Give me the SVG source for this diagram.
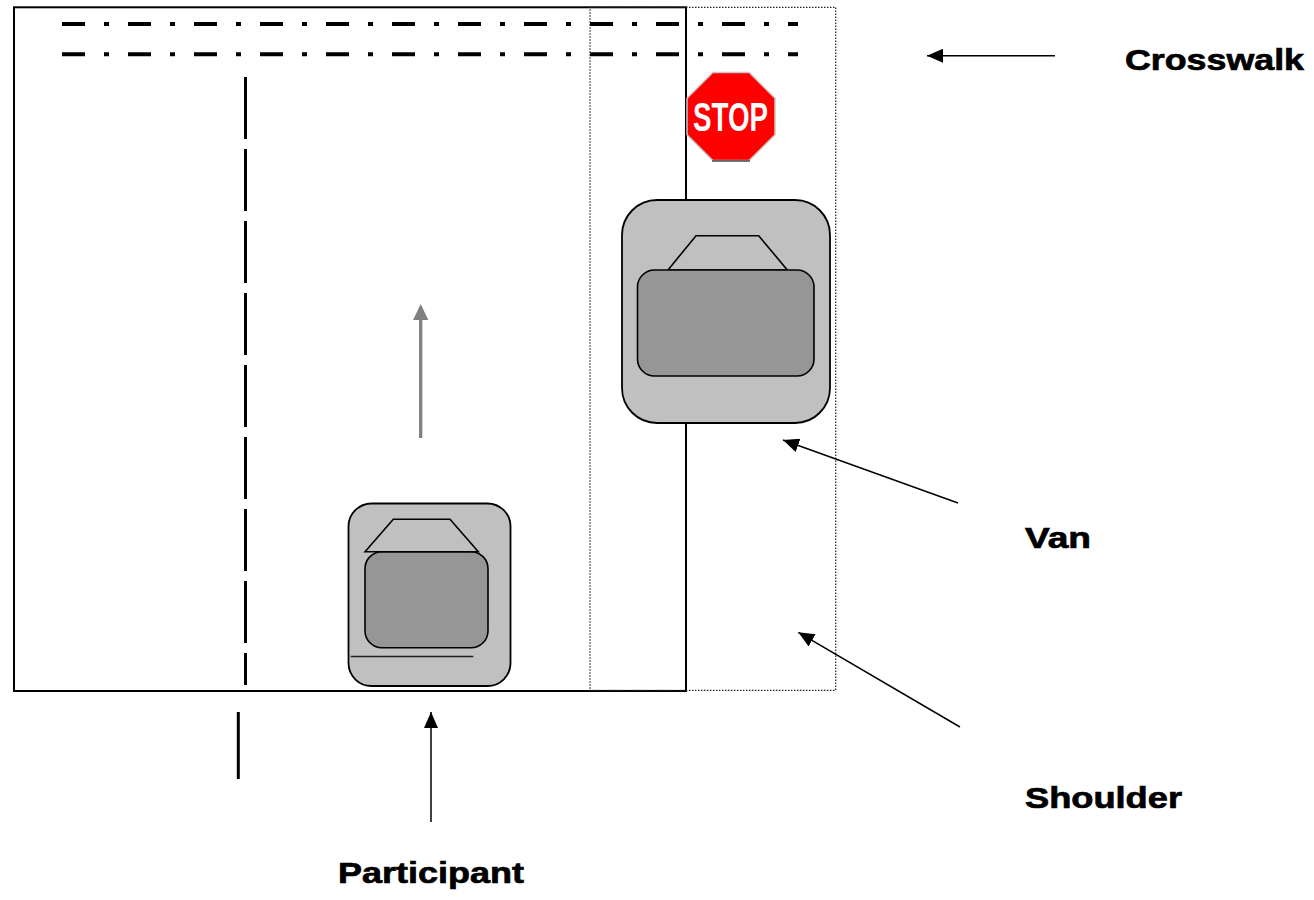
<svg xmlns="http://www.w3.org/2000/svg" width="1314" height="900" viewBox="0 0 1314 900">
  <style>
    .road { fill: none; stroke: #000; stroke-width: 2; }
    .shoulder-edge { fill: none; stroke: #222; stroke-width: 1.2; stroke-dasharray: 1.5 1.5; }
    .walk { stroke: #000; stroke-width: 4; stroke-dasharray: 23 19 5 19; fill: none; }
    .lane { stroke: #000; stroke-width: 3; fill: none; }
    .body { fill: #C0C0C0; stroke: #000; stroke-width: 1.8; }
    .glass { fill: #969696; stroke: #000; stroke-width: 1.6; }
    .roof { fill: #C0C0C0; stroke: #000; stroke-width: 1.6; stroke-linejoin: miter; }
    .label { font-family: "Liberation Sans", Arial, sans-serif; font-weight: bold; font-size: 30px; fill: #000; stroke: #000; stroke-width: 0.7; }
    .conn { stroke: #000; stroke-width: 1.5; fill: none; marker-end: url(#head); }
  </style>
  <defs>
    <marker id="head" viewBox="0 0 16 14" refX="16" refY="7" markerWidth="16" markerHeight="14" markerUnits="userSpaceOnUse" orient="auto">
      <path d="M0,0 L16,7 L0,14 z" fill="#000"/>
    </marker>
  </defs>

  <rect width="1314" height="900" fill="#fff"/>

  <!-- road outline and lane divider -->
  <g id="road">
    <rect class="road" x="14" y="7.3" width="672" height="683.7"/>
    <line class="lane" x1="245.5" y1="77" x2="245.5" y2="685" stroke-dasharray="62 10"/>
    <line class="lane" x1="238.3" y1="712" x2="238.3" y2="779"/>
  </g>

  <!-- shoulder boundary -->
  <g id="shoulder">
    <rect class="shoulder-edge" x="590" y="7.3" width="245.7" height="683"/>
  </g>

  <!-- crosswalk markings -->
  <g id="crosswalk">
    <line class="walk" x1="62" y1="24" x2="798" y2="24"/>
    <line class="walk" x1="62" y1="54.3" x2="798" y2="54.3"/>
  </g>

  <!-- stop sign -->
  <g id="stop-sign">
    <polygon points="712.8,72.5 749.2,72.5 775,98.3 775,134.7 749.2,160.5 712.8,160.5 687,134.7 687,98.3" fill="#FF0000" stroke="#C8C8C8" stroke-width="1.5"/>
    <line x1="712" y1="161" x2="750" y2="161" stroke="#000" stroke-width="1"/>
    <text x="693" y="130.7" font-family="Liberation Sans, Arial, sans-serif" font-weight="bold" font-size="40" fill="#fff" textLength="75" lengthAdjust="spacingAndGlyphs">STOP</text>
  </g>

  <!-- parked van on the shoulder -->
  <g id="van">
    <rect class="body" x="622" y="200" width="208" height="223" rx="35" ry="35"/>
    <polygon class="roof" points="668,270 696,235.7 758.7,235.7 787.3,270"/>
    <rect class="glass" x="637.5" y="270" width="176.5" height="106" rx="17" ry="17"/>
  </g>

  <!-- participant's car -->
  <g id="participant-car">
    <rect class="body" x="348.5" y="503.5" width="162" height="182.5" rx="23" ry="23"/>
    <rect class="glass" x="365" y="551.7" width="123" height="96" rx="17" ry="17"/>
    <polygon class="roof" points="365,551.7 393.3,519.3 450,519.3 478.3,551.7"/>
    <line x1="350.7" y1="656.5" x2="473.3" y2="656.5" stroke="#222" stroke-width="1.4"/>
  </g>

  <!-- direction of travel -->
  <g id="travel-arrow">
    <line x1="420.7" y1="438" x2="420.7" y2="318" stroke="#808080" stroke-width="3.3"/>
    <polygon points="420.7,304 428.3,320 413.1,320" fill="#808080"/>
  </g>

  <!-- labels -->
  <g id="label-crosswalk">
    <text class="label" x="1125" y="69.5" textLength="179" lengthAdjust="spacingAndGlyphs">Crosswalk</text>
  </g>
  <g id="label-van">
    <text class="label" x="1025" y="548.3" textLength="66" lengthAdjust="spacingAndGlyphs">Van</text>
  </g>
  <g id="label-shoulder">
    <text class="label" x="1025" y="808.3" textLength="157" lengthAdjust="spacingAndGlyphs">Shoulder</text>
  </g>
  <g id="label-participant">
    <text class="label" x="338" y="883.3" textLength="186" lengthAdjust="spacingAndGlyphs">Participant</text>
  </g>

  <!-- label pointers -->
  <g id="connectors">
    <line class="conn" x1="1055" y1="55.7" x2="927" y2="55.7"/>
    <line class="conn" x1="958" y1="503" x2="783" y2="440"/>
    <line class="conn" x1="960" y1="727" x2="798.3" y2="632.3"/>
    <line class="conn" x1="431" y1="822" x2="431" y2="712"/>
  </g>
</svg>
